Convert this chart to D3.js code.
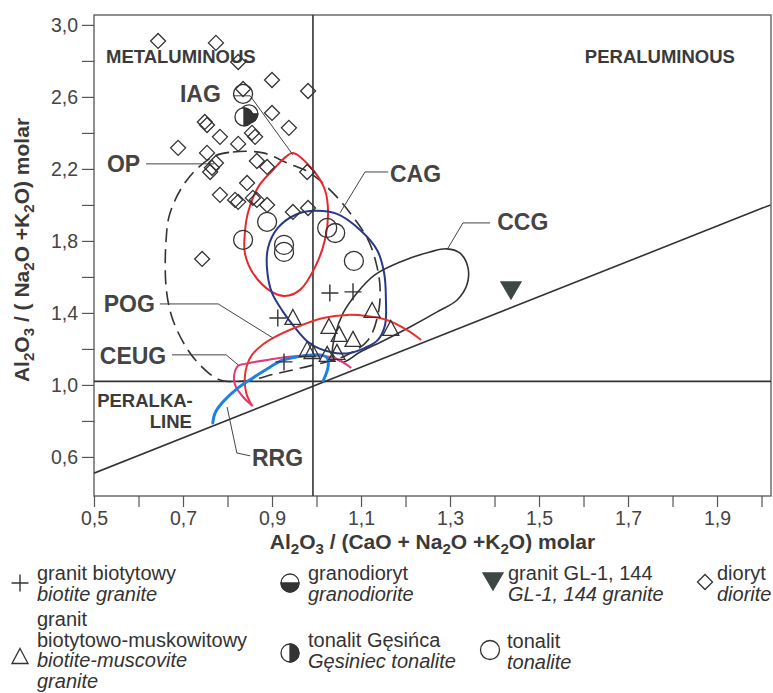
<!DOCTYPE html>
<html>
<head>
<meta charset="utf-8">
<script src="https://cdn.jsdelivr.net/npm/d3@7"></script>
<style>
  body { margin: 0; background: #fff; }
  svg { display: block; font-family: "Liberation Sans", Arial, sans-serif; }
</style>
</head>
<body>
<div id="chart"></div>
<script>
// ---- data (A/CNK, A/NK) ----
const diorite = [
  [0.644, 2.911], [0.774, 2.900], [0.824, 2.794], [0.900, 2.694], [0.981, 2.633], [0.835, 2.644],
  [0.749, 2.461], [0.754, 2.444], [0.783, 2.378], [0.855, 2.400], [0.862, 2.378], [0.900, 2.511],
  [0.938, 2.428], [0.689, 2.317], [0.824, 2.339], [0.754, 2.289], [0.774, 2.233], [0.765, 2.206],
  [0.761, 2.183], [0.866, 2.244], [0.889, 2.211], [0.979, 2.183], [0.844, 2.122], [0.783, 2.056],
  [0.817, 2.028], [0.824, 2.017], [0.857, 2.039], [0.866, 2.028], [0.889, 2.000], [0.947, 1.961],
  [0.981, 1.983], [0.743, 1.700]
];
const tonalite = [
  [0.835, 2.617], [0.889, 1.906], [0.835, 1.806], [0.927, 1.778], [0.927, 1.739],
  [1.024, 1.872], [1.042, 1.844], [1.084, 1.689]
];
const granodiorite = [[0.848, 2.506]];
const gesiniecTonalite = [[0.837, 2.489]];
const biotiteGranite = [[1.030, 1.511], [1.082, 1.517], [0.913, 1.372], [0.927, 1.128]];
const biotiteMuscoviteGranite = [
  [0.947, 1.372], [1.028, 1.322], [1.051, 1.278], [1.082, 1.250], [1.125, 1.411],
  [1.167, 1.311], [0.979, 1.194], [0.990, 1.183], [1.024, 1.167], [1.046, 1.178]
];
const gl1Granite = [[1.437, 1.528]];

// ---- granite field outlines ----
const fieldOP = [
  [0.767, 2.267], [0.812, 2.294], [0.880, 2.289], [0.934, 2.233], [0.985, 2.178], [1.037, 2.067],
  [1.075, 1.956], [1.116, 1.806], [1.136, 1.656], [1.143, 1.528], [1.138, 1.389], [1.116, 1.250],
  [1.064, 1.161], [0.985, 1.106], [0.907, 1.061], [0.839, 1.022], [0.783, 1.028], [0.738, 1.111],
  [0.704, 1.222], [0.675, 1.378], [0.662, 1.544], [0.662, 1.806], [0.671, 1.956], [0.709, 2.139]
];
const fieldIAG = [
  [0.947, 2.289], [0.992, 2.194], [1.019, 2.083], [1.026, 1.956], [1.019, 1.806], [0.997, 1.656],
  [0.963, 1.528], [0.929, 1.494], [0.896, 1.522], [0.857, 1.622], [0.839, 1.733], [0.839, 1.844],
  [0.846, 1.956], [0.869, 2.100], [0.902, 2.194], [0.931, 2.267]
];
const fieldCAG = [
  [0.992, 1.967], [1.046, 1.950], [1.098, 1.861], [1.136, 1.750], [1.152, 1.622], [1.156, 1.472],
  [1.154, 1.333], [1.138, 1.250], [1.109, 1.206], [1.075, 1.178], [1.042, 1.178], [1.008, 1.200],
  [0.981, 1.239], [0.952, 1.317], [0.925, 1.406], [0.900, 1.511], [0.889, 1.639], [0.891, 1.761],
  [0.913, 1.872], [0.952, 1.944]
];
const fieldCCG = [
  [1.037, 1.167], [1.042, 1.278], [1.060, 1.400], [1.091, 1.511], [1.131, 1.611], [1.188, 1.683],
  [1.255, 1.739], [1.293, 1.756], [1.322, 1.733], [1.340, 1.656], [1.338, 1.556], [1.316, 1.472],
  [1.271, 1.406], [1.210, 1.322], [1.154, 1.250], [1.098, 1.183], [1.060, 1.128]
];
const fieldPOG = [
  [0.855, 0.883], [0.842, 0.956], [0.839, 1.044], [0.844, 1.111], [0.855, 1.167], [0.878, 1.222],
  [0.907, 1.267], [0.956, 1.322], [1.015, 1.372], [1.069, 1.389], [1.113, 1.383], [1.158, 1.361],
  [1.203, 1.306], [1.235, 1.250]
];
const fieldCEUG = [
  [0.857, 0.883], [0.835, 0.933], [0.817, 1.000], [0.815, 1.056], [0.824, 1.106], [0.839, 1.117],
  [0.889, 1.139], [0.956, 1.161], [1.015, 1.161], [1.046, 1.144], [1.078, 1.094]
];
const fieldRRG = [
  [0.767, 0.789], [0.772, 0.844], [0.790, 0.906], [0.821, 0.978], [0.857, 1.039], [0.896, 1.100],
  [0.925, 1.139], [0.956, 1.156], [1.008, 1.167], [1.024, 1.150], [1.026, 1.100], [1.015, 1.022]
];

// label text, anchor point and leader line
const fieldLabels = [
  { text: "IAG",  at: [0.693, 2.572], leader: [[0.812, 2.606], [0.851, 2.606], [0.947, 2.278]] },
  { text: "OP",   at: [0.529, 2.183], leader: [[0.617, 2.228], [0.770, 2.228]] },
  { text: "CAG",  at: [1.165, 2.128], leader: [[1.053, 1.956], [1.109, 2.183], [1.161, 2.183]] },
  { text: "CCG",  at: [1.406, 1.861], leader: [[1.293, 1.750], [1.329, 1.900], [1.390, 1.900]] },
  { text: "POG",  at: [0.522, 1.406], leader: [[0.648, 1.450], [0.779, 1.450], [0.902, 1.261]] },
  { text: "CEUG", at: [0.513, 1.117], leader: [[0.675, 1.167], [0.797, 1.167], [0.824, 1.111]] },
  { text: "RRG",  at: [0.855, 0.550], leader: [[0.799, 0.878], [0.821, 0.622], [0.851, 0.606]] }
];

const xTicks = d3.range(5, 21).map(d => d / 10);
const xTickLabels = [0.5, 0.7, 0.9, 1.1, 1.3, 1.5, 1.7, 1.9];
const yTicks = d3.range(3, 16).map(d => d / 5);
const yTickLabels = [0.6, 1.0, 1.4, 1.8, 2.2, 2.6, 3.0];

const boundaryX = 0.992;   // A/CNK = 1
const boundaryY = 1.02;    // A/NK = 1
const diagonal = [[0.5, 0.51], [2.02, 2.0]];

// ---- layout ----
const W = 773, H = 693;
const M = { left: 94, top: 15, right: 2, bottom: 197 };
const INK = "#3a3a3a";

const svg = d3.select("#chart").append("svg")
  .attr("width", W).attr("height", H);

const x = d3.scaleLinear().domain([0.5, 2.0213]).range([M.left, W - M.right]);
const y = d3.scaleLinear().domain([0.383, 3.055]).range([H - M.bottom, M.top]);

const plot = svg.append("g");

svg.append("defs").append("clipPath").attr("id", "clip")
  .append("rect").attr("x", M.left).attr("y", M.top)
  .attr("width", W - M.right - M.left).attr("height", H - M.bottom - M.top);

// axes
const fmt = d => d.toFixed(1).replace(".", ",");
const isLabel = (arr, d) => arr.some(v => Math.abs(v - d) < 1e-6);
const xAxis = svg.append("g")
  .attr("transform", `translate(0,${H - M.bottom})`)
  .call(d3.axisBottom(x).tickValues(xTicks).tickSize(11).tickSizeOuter(0).tickPadding(4)
    .tickFormat(d => isLabel(xTickLabels, d) ? fmt(d) : ""));
const yAxis = svg.append("g")
  .attr("transform", `translate(${M.left},0)`)
  .call(d3.axisLeft(y).tickValues(yTicks).tickSize(12).tickSizeOuter(0).tickPadding(4)
    .tickFormat(d => isLabel(yTickLabels, d) ? fmt(d) : ""));
[xAxis, yAxis].forEach(a => {
  a.select(".domain").remove();
  a.selectAll(".tick line").attr("stroke", "#555").attr("stroke-width", 1.2);
  a.selectAll(".tick text").filter(function() { return this.textContent === ""; }).remove();
  a.selectAll(".tick text").attr("fill", "#444").attr("font-size", 19.5)
    .attr("font-family", "'Liberation Sans', Arial, sans-serif");
});

// frame
plot.append("rect")
  .attr("x", M.left).attr("y", M.top)
  .attr("width", W - M.right - M.left).attr("height", H - M.bottom - M.top)
  .attr("fill", "none").attr("stroke", "#555").attr("stroke-width", 1.3);

// boundary lines
const guides = plot.append("g").attr("clip-path", "url(#clip)")
  .attr("stroke", "#333").attr("stroke-width", 1.6).attr("fill", "none");
guides.append("line").attr("x1", x(boundaryX)).attr("x2", x(boundaryX))
  .attr("y1", M.top).attr("y2", H - M.bottom);
guides.append("line").attr("x1", M.left).attr("x2", W - M.right)
  .attr("y1", y(boundaryY)).attr("y2", y(boundaryY));
guides.append("line")
  .attr("x1", x(diagonal[0][0])).attr("y1", y(diagonal[0][1]))
  .attr("x2", x(diagonal[1][0])).attr("y2", y(diagonal[1][1]));

// fields
const closed = d3.line().x(d => x(d[0])).y(d => y(d[1])).curve(d3.curveCatmullRomClosed.alpha(0.5));
const open = d3.line().x(d => x(d[0])).y(d => y(d[1])).curve(d3.curveCatmullRom.alpha(0.5));
const straight = d3.line().x(d => x(d[0])).y(d => y(d[1]));

const fields = plot.append("g").attr("fill", "none").attr("clip-path", "url(#clip)");
fields.append("path").attr("d", closed(fieldOP)).attr("stroke", "#333")
  .attr("stroke-width", 1.6).attr("stroke-dasharray", "14,7");
fields.append("path").attr("d", closed(fieldIAG)).attr("stroke", "#e8272d").attr("stroke-width", 2);
fields.append("path").attr("d", closed(fieldCAG)).attr("stroke", "#27398a").attr("stroke-width", 2);
fields.append("path").attr("d", closed(fieldCCG)).attr("stroke", "#333").attr("stroke-width", 1.6);
fields.append("path").attr("d", open(fieldPOG)).attr("stroke", "#e8322f").attr("stroke-width", 2);
fields.append("path").attr("d", open(fieldCEUG)).attr("stroke", "#e23a78").attr("stroke-width", 2);
fields.append("path").attr("d", open(fieldRRG)).attr("stroke", "#1f80e0").attr("stroke-width", 3)
  .attr("stroke-linecap", "round");

// leader lines and field labels
const labels = plot.append("g");
fieldLabels.forEach(l => {
  labels.append("path").attr("d", straight(l.leader))
    .attr("fill", "none").attr("stroke", "#444").attr("stroke-width", 1);
  labels.append("text").attr("x", x(l.at[0])).attr("y", y(l.at[1]))
    .attr("font-size", 23).attr("font-weight", "bold").attr("fill", "#444").text(l.text);
});

// region names
const regions = plot.append("g").attr("font-size", 18.5).attr("font-weight", "bold").attr("fill", INK);
regions.append("text").attr("x", x(0.527)).attr("y", y(2.789)).text("METALUMINOUS");
regions.append("text").attr("x", x(1.603)).attr("y", y(2.789)).text("PERALUMINOUS");
regions.append("text").attr("x", x(0.722)).attr("y", y(0.878)).attr("text-anchor", "end").text("PERALKA-");
regions.append("text").attr("x", x(0.720)).attr("y", y(0.761)).attr("text-anchor", "end").text("LINE");

// ---- marker shapes ----
function drawMarker(g, type, cx, cy) {
  const s = g.append("g").attr("transform", `translate(${cx},${cy})`)
    .attr("stroke", "#333").attr("stroke-width", 1.3).attr("fill", "none");
  if (type === "diamond") {
    s.append("path").attr("d", "M0,-7.5L7.5,0L0,7.5L-7.5,0Z");
  } else if (type === "circle") {
    s.append("circle").attr("r", 9.5);
  } else if (type === "cross") {
    s.append("path").attr("d", "M-8.5,0H8.5M0,-8.5V8.5").attr("stroke-width", 1.4);
  } else if (type === "triangle") {
    s.append("path").attr("d", "M0,-8.5L8,6.5L-8,6.5Z");
  } else if (type === "down") {
    s.append("path").attr("d", "M-10,-8H10L0,9Z").attr("fill", "#3d4846").attr("stroke", "#3d4846");
  } else if (type === "halfBottom") {
    s.append("path").attr("d", "M-9,0A9,9 0 0,0 9,0Z").attr("fill", "#333");
    s.append("circle").attr("r", 9);
  } else if (type === "halfRight") {
    s.append("path").attr("d", "M0,-9A9,9 0 0,1 0,9Z").attr("fill", "#333");
    s.append("circle").attr("r", 9);
  }
}

const pts = plot.append("g");
diorite.forEach(d => drawMarker(pts, "diamond", x(d[0]), y(d[1])));
tonalite.forEach(d => drawMarker(pts, "circle", x(d[0]), y(d[1])));
biotiteGranite.forEach(d => drawMarker(pts, "cross", x(d[0]), y(d[1])));
biotiteMuscoviteGranite.forEach(d => drawMarker(pts, "triangle", x(d[0]), y(d[1])));
gl1Granite.forEach(d => drawMarker(pts, "down", x(d[0]), y(d[1])));
granodiorite.forEach(d => drawMarker(pts, "halfBottom", x(d[0]), y(d[1])));
gesiniecTonalite.forEach(d => {
  pts.append("circle").attr("cx", x(d[0])).attr("cy", y(d[1])).attr("r", 9).attr("fill", "#fff");
  drawMarker(pts, "halfRight", x(d[0]), y(d[1]));
});

// ---- axis titles (with subscripts) ----
function subText(t, parts) {
  let shift = 0;
  parts.forEach(p => {
    if (p.sub) {
      t.append("tspan").attr("font-size", "0.72em").attr("dy", "0.3em").text(p.sub);
      shift = -0.216;
    } else {
      const s = t.append("tspan").text(p.t);
      if (shift) s.attr("dy", shift + "em");
      shift = 0;
    }
  });
}
const xt = svg.append("text").attr("x", (M.left + W - M.right) / 2).attr("y", 549)
  .attr("text-anchor", "middle").attr("font-size", 21).attr("font-weight", "bold").attr("fill", INK);
subText(xt, [{ t: "Al" }, { sub: "2" }, { t: "O" }, { sub: "3" }, { t: " / (CaO + Na" }, { sub: "2" },
  { t: "O +K" }, { sub: "2" }, { t: "O) molar" }]);
const yt = svg.append("text").attr("transform", "translate(29,250) rotate(-90)")
  .attr("text-anchor", "middle").attr("font-size", 21).attr("font-weight", "bold").attr("fill", INK);
subText(yt, [{ t: "Al" }, { sub: "2" }, { t: "O" }, { sub: "3" }, { t: " / ( Na" }, { sub: "2" },
  { t: "O +K" }, { sub: "2" }, { t: "O) molar" }]);

// ---- legend ----
const legendItems = [
  { sym: "cross",      pl: ["granit biotytowy"], en: ["biotite granite"] },
  { sym: "halfBottom", pl: ["granodioryt"], en: ["granodiorite"] },
  { sym: "down",       pl: ["granit GL-1, 144"], en: ["GL-1, 144 granite"] },
  { sym: "diamond",    pl: ["dioryt"], en: ["diorite"] },
  { sym: "triangle",   pl: ["granit", "biotytowo-muskowitowy"], en: ["biotite-muscovite", "granite"] },
  { sym: "halfRight",  pl: ["tonalit Gęsińca"], en: ["Gęsiniec tonalite"] },
  { sym: "circle",     pl: ["tonalit"], en: ["tonalite"] }
];
// marker x, marker y, text x, first baseline
const legendSlots = [
  [20, 583, 37, 580], [290, 583, 308, 580], [493, 581, 508, 580], [705, 582, 717, 580],
  [20, 657, 37, 626], [290, 653, 308, 647], [490, 650, 507, 648]
];
const lg = svg.append("g").attr("font-size", 20).attr("fill", "#333");
legendItems.forEach((it, i) => {
  const [mx, my, tx, ty] = legendSlots[i];
  drawMarker(lg, it.sym, mx, my);
  const lines = it.pl.map(t => ({ t, it: false })).concat(it.en.map(t => ({ t, it: true })));
  lines.forEach((l, j) => {
    lg.append("text").attr("x", tx).attr("y", ty + j * 20.5)
      .attr("font-style", l.it ? "italic" : "normal").text(l.t);
  });
});
</script>
</body>
</html>
